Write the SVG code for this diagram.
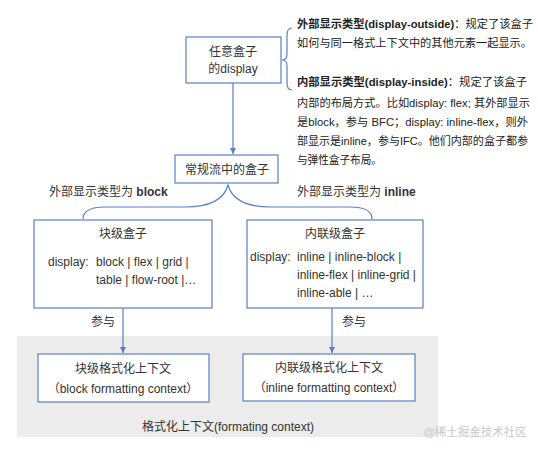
<svg xmlns="http://www.w3.org/2000/svg" width="538" height="451" viewBox="0 0 538 451">
<defs>
<style>
text{font-family:"Liberation Sans","Noto Sans CJK SC",sans-serif;fill:#333;font-size:12px}
.c{text-anchor:middle}
.b{font-weight:bold}
.n{font-size:11px;fill:#222}
.box{fill:#fff;stroke:#5b7fc7;stroke-width:1.2}
.ln{fill:none;stroke:#5b7fc7;stroke-width:1.2}
.wm{fill:#c8c8c8;font-size:11.5px}
</style>
<marker id="ah" markerWidth="8" markerHeight="8" refX="6" refY="3" orient="auto" markerUnits="userSpaceOnUse">
<path d="M0,0 L6,3 L0,6 Z" fill="#5b7fc7"/>
</marker>
</defs>
<rect width="538" height="451" fill="#fff"/>
<rect id="fc-area" x="17" y="336" width="421" height="101" fill="#ececec"/>
<g id="connectors">
<line class="ln" x1="233" y1="83" x2="233" y2="154" marker-end="url(#ah)"/>
<path class="ln" d="M292 28 Q287 28 287 35 L287 54 Q287 60 282 60 Q287 60 287 66 L287 83 Q287 90 292 90"/>
<path class="ln" d="M83 219 Q83 207 105 207 L185 207 Q222 207 228 185 Q234 207 271 207 L350 207 Q372 207 372 219"/>
<line class="ln" x1="123" y1="308" x2="123" y2="353" marker-end="url(#ah)"/>
<line class="ln" x1="332" y1="308" x2="332" y2="353" marker-end="url(#ah)"/>
<text x="103" y="326" class="c">参与</text>
<text x="354" y="326" class="c">参与</text>
<text x="49" y="196">外部显示类型为 <tspan class="b">block</tspan></text>
<text x="297" y="196">外部显示类型为 <tspan class="b">inline</tspan></text>
</g>
<g id="note">
<text class="n" x="297" y="28" textLength="236" lengthAdjust="spacingAndGlyphs"><tspan class="b">外部显示类型(display-outside)</tspan>：规定了该盒子</text>
<text class="n" x="297" y="47" textLength="235" lengthAdjust="spacingAndGlyphs">如何与同一格式上下文中的其他元素一起显示。</text>
<text class="n" x="297" y="86" textLength="230" lengthAdjust="spacingAndGlyphs"><tspan class="b">内部显示类型(display-inside)</tspan>：规定了该盒子</text>
<text class="n" x="297" y="107" textLength="233" lengthAdjust="spacingAndGlyphs">内部的布局方式。比如display: flex; 其外部显示</text>
<text class="n" x="297" y="126" textLength="231" lengthAdjust="spacingAndGlyphs">是block，参与 BFC；display: inline-flex，则外</text>
<text class="n" x="297" y="145" textLength="231" lengthAdjust="spacingAndGlyphs">部显示是inline，参与IFC。他们内部的盒子都参</text>
<text class="n" x="297" y="164" textLength="85" lengthAdjust="spacingAndGlyphs">与弹性盒子布局。</text>
</g>
<g id="any-box">
<rect class="box" x="186" y="37" width="95" height="46"/>
<text x="233" y="56" class="c">任意盒子</text>
<text x="233" y="73" class="c">的display</text>
</g>
<g id="normal-flow">
<rect class="box" x="175" y="155" width="103" height="28"/>
<text x="227" y="174" class="c">常规流中的盒子</text>
</g>
<g id="block-box">
<rect class="box" x="34" y="220" width="178" height="88"/>
<text x="123" y="238" class="c">块级盒子</text>
<text x="48" y="266">display:</text>
<text x="96" y="266">block | flex | grid |</text>
<text x="96" y="284">table | flow-root |…</text>
</g>
<g id="inline-box">
<rect class="box" x="247" y="220" width="176" height="88"/>
<text x="335" y="238" class="c">内联级盒子</text>
<text x="250" y="261">display:</text>
<text x="297" y="261">inline | inline-block |</text>
<text x="297" y="279">inline-flex | inline-grid |</text>
<text x="297" y="297">inline-able | …</text>
</g>
<g id="bfc">
<rect class="box" x="38" y="354" width="171" height="48"/>
<text x="123" y="373" class="c">块级格式化上下文</text>
<text x="123" y="393" class="c">（block formatting context）</text>
</g>
<g id="ifc">
<rect class="box" x="243" y="354" width="172" height="47"/>
<text x="329" y="372" class="c">内联级格式化上下文</text>
<text x="329" y="392" class="c">（inline formatting context）</text>
</g>
<text x="228" y="431" class="c">格式化上下文(formating context)</text>
<text x="475" y="436" class="c wm">@稀土掘金技术社区</text>
</svg>
